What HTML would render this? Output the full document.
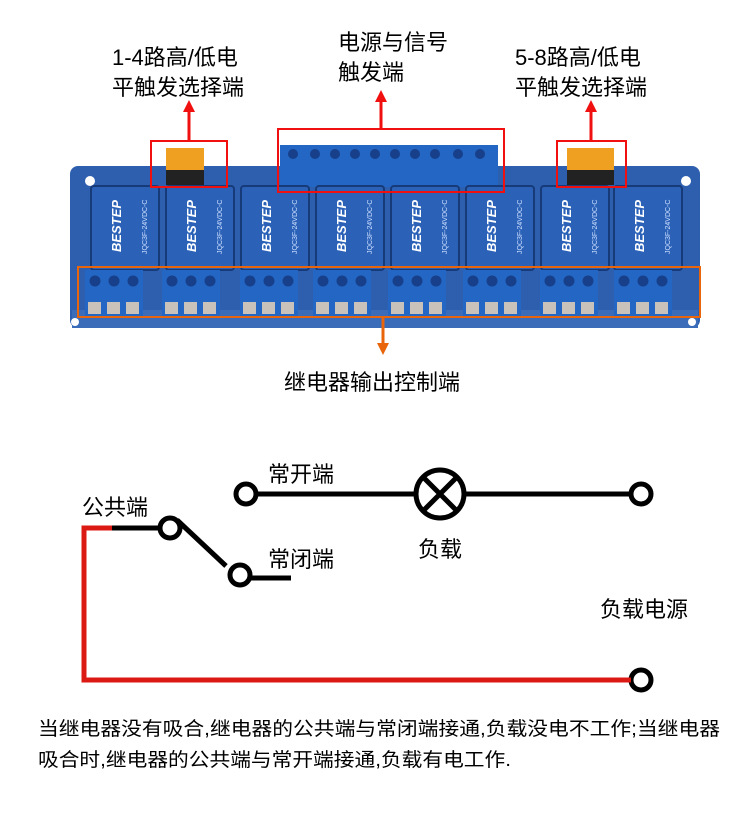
<!DOCTYPE html>
<html><head><meta charset="utf-8"><style>
html,body{margin:0;padding:0;background:#fff;}
svg{display:block;font-family:"Liberation Sans","Noto Sans CJK SC",sans-serif;}
</style></head><body>
<svg width="750" height="815" viewBox="0 0 750 815" xmlns="http://www.w3.org/2000/svg">
<defs>
<g id="relay">
<rect x="0" y="0" width="68" height="84" rx="3" fill="#2b62b8"/>
<rect x="0" y="0" width="68" height="84" rx="3" fill="none" stroke="#173a78" stroke-width="2"/>
<text x="0" y="0" transform="translate(30,66) rotate(-90)" fill="#fff" font-size="13" font-weight="bold" font-style="italic">BESTEP</text>
<text x="0" y="0" transform="translate(56,68) rotate(-90)" fill="#cfe0ff" font-size="7">JQC3F-24VDC-C</text>
</g>
<g id="term">
<rect x="0" y="0" width="58" height="48" fill="#2466c4"/>
<circle cx="10" cy="11" r="5.5" fill="#173f8a"/><circle cx="29" cy="11" r="5.5" fill="#173f8a"/><circle cx="48" cy="11" r="5.5" fill="#173f8a"/>
<rect x="3" y="32" width="13" height="12" fill="#c9c2bb"/><rect x="22" y="32" width="13" height="12" fill="#c9c2bb"/><rect x="41" y="32" width="13" height="12" fill="#c9c2bb"/>
</g>
</defs>
<g font-size="22" fill="#000">
<text x="112" y="65">1-4路高/低电</text>
<text x="112" y="95">平触发选择端</text>
<text x="338" y="50">电源与信号</text>
<text x="338" y="80">触发端</text>
<text x="515" y="65">5-8路高/低电</text>
<text x="515" y="95">平触发选择端</text>
<text x="284" y="390">继电器输出控制端</text>
</g>
<rect x="70" y="166" width="630" height="162" rx="8" fill="#2d5fae"/>
<rect x="72" y="310" width="626" height="18" fill="#3a6cba"/>
<circle cx="90" cy="181" r="5" fill="#fff"/><circle cx="686" cy="181" r="5" fill="#fff"/>
<circle cx="75" cy="322" r="4" fill="#fff"/><circle cx="692" cy="322" r="4" fill="#fff"/>
<rect x="280" y="145" width="218" height="42" fill="#2466c4"/>
<g fill="#173f8a">
<circle cx="293" cy="154" r="5"/><circle cx="315" cy="154" r="5"/><circle cx="335" cy="154" r="5"/><circle cx="355" cy="154" r="5"/><circle cx="375" cy="154" r="5"/><circle cx="395" cy="154" r="5"/><circle cx="415" cy="154" r="5"/><circle cx="435" cy="154" r="5"/><circle cx="458" cy="154" r="5"/><circle cx="480" cy="154" r="5"/>
</g>
<rect x="166" y="148" width="38" height="30" fill="#f0a020"/>
<rect x="166" y="170" width="38" height="15" fill="#222"/>
<rect x="567" y="148" width="47" height="30" fill="#f0a020"/>
<rect x="567" y="170" width="47" height="15" fill="#222"/>
<use href="#relay" x="91" y="186"/><use href="#relay" x="166" y="186"/><use href="#relay" x="241" y="186"/><use href="#relay" x="316" y="186"/>
<use href="#relay" x="391" y="186"/><use href="#relay" x="466" y="186"/><use href="#relay" x="541" y="186"/><use href="#relay" x="614" y="186"/>
<use href="#term" x="85" y="270"/><use href="#term" x="162" y="270"/><use href="#term" x="240" y="270"/><use href="#term" x="313" y="270"/>
<use href="#term" x="388" y="270"/><use href="#term" x="463" y="270"/><use href="#term" x="540" y="270"/><use href="#term" x="614" y="270"/>
<rect x="78" y="267" width="622" height="50" fill="none" stroke="#e8650c" stroke-width="2"/>
<rect x="151" y="141" width="76" height="46" fill="none" stroke="#f01010" stroke-width="2"/>
<rect x="278" y="129" width="226" height="63" fill="none" stroke="#f01010" stroke-width="2"/>
<rect x="557" y="141" width="69" height="46" fill="none" stroke="#f01010" stroke-width="2"/>
<g stroke="#f01010" stroke-width="3">
<line x1="189" y1="141" x2="189" y2="110"/><line x1="381" y1="129" x2="381" y2="100"/><line x1="591" y1="141" x2="591" y2="110"/>
</g>
<g fill="#f01010">
<polygon points="183,112 195,112 189,100"/><polygon points="375,102 387,102 381,90"/><polygon points="585,112 597,112 591,100"/>
</g>
<line x1="383" y1="317" x2="383" y2="345" stroke="#e8650c" stroke-width="3"/>
<polygon points="377,343 389,343 383,355" fill="#e8650c"/>
<g stroke="#000" stroke-width="5" fill="none">
<line x1="256" y1="494" x2="415" y2="494"/>
<line x1="465" y1="494" x2="632" y2="494"/>
<line x1="112" y1="528" x2="160" y2="528"/>
<line x1="177" y1="520" x2="226" y2="566"/>
<line x1="250" y1="578" x2="291" y2="578"/>
<circle cx="246" cy="494" r="10"/>
<circle cx="641" cy="494" r="10"/>
<circle cx="170" cy="528" r="10"/>
<circle cx="240" cy="575" r="10"/>
<circle cx="641" cy="680" r="10"/>
<circle cx="440" cy="494" r="24"/>
<line x1="423" y1="477" x2="457" y2="511"/><line x1="457" y1="477" x2="423" y2="511"/>
</g>
<polyline points="112,528 84,528 84,680 631,680" fill="none" stroke="#dc1a14" stroke-width="5"/>
<g font-size="22" fill="#000">
<text x="268" y="482">常开端</text>
<text x="82" y="515">公共端</text>
<text x="268" y="567">常闭端</text>
<text x="418" y="557">负载</text>
<text x="600" y="617">负载电源</text>
</g>
<g font-size="19" fill="#000">
<text x="38" y="735" textLength="682" lengthAdjust="spacingAndGlyphs">当继电器没有吸合,继电器的公共端与常闭端接通,负载没电不工作;当继电器</text>
<text x="38" y="766" textLength="473" lengthAdjust="spacingAndGlyphs">吸合时,继电器的公共端与常开端接通,负载有电工作.</text>
</g>
</svg>
</body></html>
